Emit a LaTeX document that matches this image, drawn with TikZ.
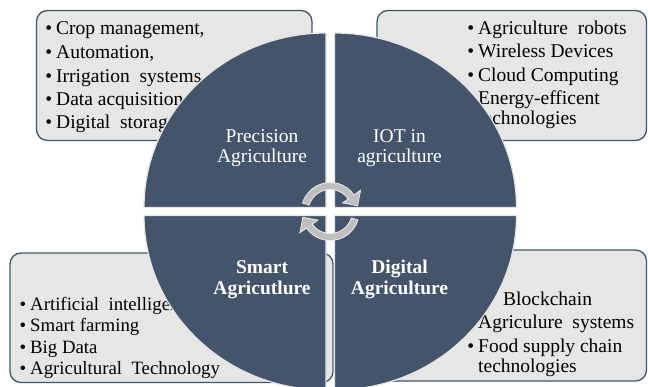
\documentclass[tikz,border=0pt]{standalone}
\usepackage{fontspec}
\setmainfont{Liberation Serif}
\definecolor{quad}{HTML}{44546A}
\definecolor{boxfill}{HTML}{E7E6E6}
\definecolor{boxline}{HTML}{44546A}
\newcommand\bul{\makebox[0.56em][l]{\textbullet}}
\begin{document}
\begin{tikzpicture}[x=1pt,y=1pt,
  infobox/.style={draw=boxline, fill=boxfill, line width=1.3pt, rounded corners=11pt},
  quadrant/.style={fill=quad, draw=black!10, line width=1.2pt},
  itemtxt/.style={anchor=base west, inner sep=0pt, font=\fontsize{19.5}{23}\selectfont},
  itemsmall/.style={itemtxt, font=\fontsize{18.8}{22}\selectfont},
  qlabel/.style={anchor=base, text=white, inner sep=0pt, font=\fontsize{19.5}{20.5}\selectfont},
  qbold/.style={qlabel, font=\fontsize{19.5}{20.5}\selectfont\bfseries},
  cyc/.style={fill=black!25, draw=black!8, line width=0.8pt}
]
\useasboundingbox (0,0) rectangle (648,386);

% boxes
\draw[infobox] (36.5,245.5) rectangle (312,375.5);
\draw[infobox] (377,245.5) rectangle (646.5,375.5);
\draw[infobox] (10,3.5) rectangle (333,133);
\draw[infobox] (345,5) rectangle (646.5,136);

% top-left list
\node[itemtxt] (tl1) at (45.1,351) {\bul Crop management,};
\node[itemtxt] (tl2) at (45.1,327) {\bul Automation,};
\node[itemtxt] (tl3) at (45.1,303) {\bul Irrigation\ \ systems};
\node[itemtxt] (tl4) at (45.1,280) {\bul Data acquisition};
\node[itemtxt] (tl5) at (45.1,257) {\bul Digital\ \ storage};

% top-right list
\node[itemtxt] (tr1) at (467.1,351) {\bul Agriculture\ \ robots};
\node[itemtxt] (tr2) at (467.1,328) {\bul Wireless Devices};
\node[itemtxt] (tr3) at (467.1,304) {\bul Cloud Computing};
\node[itemtxt] (tr4) at (467.1,281) {\bul Energy-efficent};
\node[itemtxt] (tr5) at (478,261) {technologies};

% bottom-left list
\node[itemsmall] (bl1) at (19.5,76) {\bul Artificial\ \ intelligence};
\node[itemsmall] (bl2) at (19.5,54.5) {\bul Smart farming};
\node[itemsmall] (bl3) at (19.5,33) {\bul Big Data};
\node[itemsmall] (bl4) at (19.5,12) {\bul Agricultural\ \ Technology};

% bottom-right list
\node[itemtxt] (br1) at (503,81) {Blockchain};
\node[itemtxt] (br2) at (467.1,58) {\bul Agriculure\ \ systems};
\node[itemtxt] (br3) at (467.1,34) {\bul Food supply chain};
\node[itemtxt] (br4) at (478,14) {technologies};

% quadrants
\draw[quadrant] (326,178.5) -- (144,178.5) arc[start angle=180,end angle=90,x radius=182pt,y radius=174.5pt] -- cycle;
\draw[quadrant] (334.5,178.5) -- (334.5,353) arc[start angle=90,end angle=0,x radius=182pt,y radius=174.5pt] -- cycle;
\draw[quadrant] (326,170.5) -- (144,170.5) arc[start angle=180,end angle=270,x radius=182pt,y radius=174.5pt] -- cycle;
\draw[quadrant] (334.5,170.5) -- (516.5,170.5) arc[start angle=0,end angle=-90,x radius=182pt,y radius=174.5pt] -- cycle;

% quadrant labels
\node[qlabel] (pa1) at (262,243) {Precision};
\node[qlabel] (pa2) at (262,223) {Agriculture};
\node[qlabel] (io1) at (399.5,243) {IOT in};
\node[qlabel] (io2) at (399.5,223) {agriculture};
\node[qbold] (sa1) at (262,113) {Smart};
\node[qbold] (sa2) at (262,92) {Agricutlure};
\node[qbold] (da1) at (399.5,113) {Digital};
\node[qbold] (da2) at (399.5,92) {Agriculture};

% circular arrows
\begin{scope}[shift={(330.25,174.5)}]
\draw[cyc] (163:29pt) arc[start angle=163,end angle=35,radius=29pt] -- (35:37pt) -- (12:28pt) -- (35:15pt) -- (35:22pt) arc[start angle=35,end angle=163,radius=22pt] -- cycle;
\draw[cyc,rotate=180] (163:29pt) arc[start angle=163,end angle=35,radius=29pt] -- (35:37pt) -- (12:28pt) -- (35:15pt) -- (35:22pt) arc[start angle=35,end angle=163,radius=22pt] -- cycle;
\end{scope}
\end{tikzpicture}
\end{document}
